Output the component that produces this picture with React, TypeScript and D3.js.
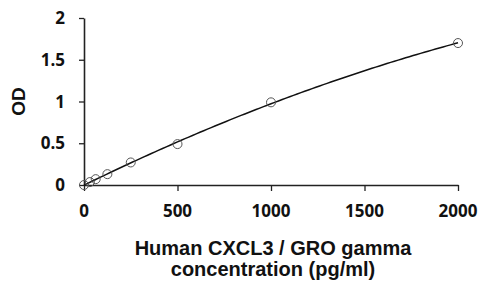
import React, { useRef, useEffect } from "react";
import * as d3 from "d3";

const concentrations = [0, 31.25, 62.5, 125, 250, 500, 1000, 2000];
const odValues = [0, 0.035, 0.07, 0.13, 0.27, 0.49, 0.99, 1.7];
const xTicks = [0, 500, 1000, 1500, 2000];
const yTicks = [0, 0.5, 1, 1.5, 2];
const xTitleLines = ["Human CXCL3 / GRO gamma", "concentration (pg/ml)"];
const yTitle = "OD";

const width = 481;
const height = 281;

// least squares quadratic trendline (like a spreadsheet poly trendline)
const fitQuadratic = (xs: number[], ys: number[]) => {
  const s = [0, 0, 0, 0, 0];
  const t = [0, 0, 0];
  xs.forEach((xv, i) => {
    const u = xv / 1000;
    for (let k = 0; k < 5; k++) s[k] += Math.pow(u, k);
    for (let k = 0; k < 3; k++) t[k] += ys[i] * Math.pow(u, k);
  });
  const m = [
    [s[0], s[1], s[2], t[0]],
    [s[1], s[2], s[3], t[1]],
    [s[2], s[3], s[4], t[2]]
  ];
  for (let i = 0; i < 3; i++) {
    for (let j = i + 1; j < 3; j++) {
      const f = m[j][i] / m[i][i];
      for (let k = i; k < 4; k++) m[j][k] -= f * m[i][k];
    }
  }
  const c = [0, 0, 0];
  for (let i = 2; i >= 0; i--) {
    let v = m[i][3];
    for (let k = i + 1; k < 3; k++) v -= m[i][k] * c[k];
    c[i] = v / m[i][i];
  }
  return (xv: number) => {
    const u = xv / 1000;
    return c[0] + c[1] * u + c[2] * u * u;
  };
};

const App = () => {
  const svgRef = useRef<SVGSVGElement>(null);

  useEffect(() => {
    const svg = d3.select(svgRef.current);
    svg.selectAll("*").remove();

    const x = d3.scaleLinear().domain([0, 2000]).range([84, 458]);
    const y = d3.scaleLinear().domain([0, 2]).range([185, 18]);

    const tickFont = "'Open Sans', 'Liberation Sans', sans-serif";
    const titleFont = "'Liberation Sans', Arial, sans-serif";

    // axes (lines + ticks only, labels drawn below)
    const yAxis = svg.append("g")
      .attr("transform", `translate(${x(0)},0)`)
      .call(d3.axisLeft(y).tickValues(yTicks).tickSize(5).tickSizeOuter(0).tickFormat(() => ""));
    const xAxis = svg.append("g")
      .attr("transform", `translate(0,${y(0)})`)
      .call(d3.axisBottom(x).tickValues(xTicks).tickSize(6).tickSizeOuter(0).tickFormat(() => ""));

    [yAxis, xAxis].forEach(g => {
      g.select(".domain").attr("stroke", "#222").attr("stroke-width", 1.6);
      g.selectAll(".tick line").attr("stroke", "#222").attr("stroke-width", 1.3);
    });

    svg.append("g")
      .selectAll("text")
      .data(yTicks)
      .join("text")
      .attr("x", x(0) - 19)
      .attr("y", d => y(d))
      .attr("dy", "0.36em")
      .attr("text-anchor", "end")
      .attr("font-family", tickFont)
      .attr("font-weight", 700)
      .attr("font-size", 17)
      .attr("fill", "#111")
      .text(d => String(d));

    svg.append("g")
      .selectAll("text")
      .data(xTicks)
      .join("text")
      .attr("x", d => x(d))
      .attr("y", y(0) + 32)
      .attr("text-anchor", "middle")
      .attr("font-family", tickFont)
      .attr("font-weight", 700)
      .attr("font-size", 17)
      .attr("fill", "#111")
      .text(d => String(d));

    // fitted curve
    const fit = fitQuadratic(concentrations, odValues);
    const curve = d3.range(0, 2001, 20).map(c => [x(c), y(fit(c))] as [number, number]);
    svg.append("path")
      .attr("d", d3.line()(curve))
      .attr("fill", "none")
      .attr("stroke", "#111")
      .attr("stroke-width", 1.5);

    // markers
    svg.append("g")
      .selectAll("circle")
      .data(concentrations)
      .join("circle")
      .attr("cx", d => x(d))
      .attr("cy", (d, i) => y(odValues[i]))
      .attr("r", 4.5)
      .attr("fill", "none")
      .attr("stroke", "#555")
      .attr("stroke-width", 1);

    // titles
    svg.append("text")
      .attr("transform", `translate(25,${y(1)}) rotate(-90)`)
      .attr("text-anchor", "middle")
      .attr("font-family", titleFont)
      .attr("font-weight", 700)
      .attr("font-size", 19)
      .attr("fill", "#111")
      .text(yTitle);

    svg.append("g")
      .selectAll("text")
      .data(xTitleLines)
      .join("text")
      .attr("x", 273)
      .attr("y", (d, i) => 255 + i * 21)
      .attr("text-anchor", "middle")
      .attr("font-family", titleFont)
      .attr("font-weight", 700)
      .attr("font-size", 20)
      .attr("fill", "#111")
      .text(d => d);
  }, []);

  return (
    <svg
      ref={svgRef}
      width={width}
      height={height}
      style={{ position: "absolute", left: 0, top: 0, background: "#fff" }}
    />
  );
};

export default App;
